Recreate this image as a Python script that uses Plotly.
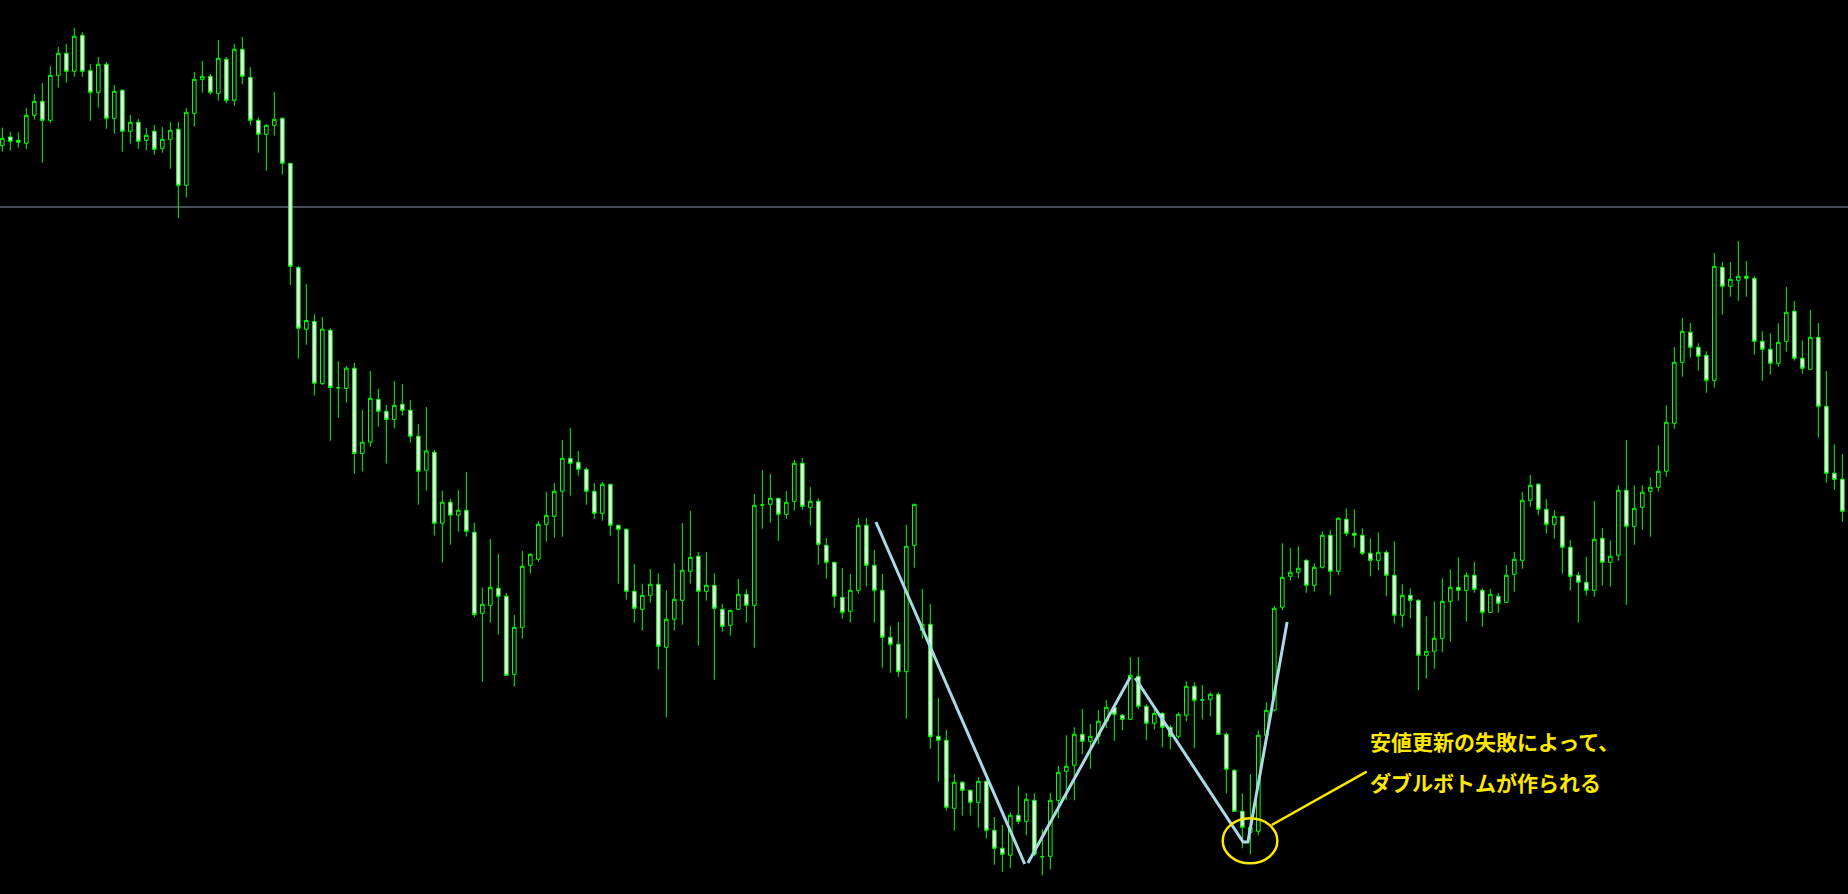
import plotly.graph_objects as go

# ---- candle data (index = bar number, prices) ----
open_ = [
112.543,112.630,112.597,112.567,112.847,112.987,112.797,113.247,113.467,113.287,
113.647,113.293,113.077,113.357,112.817,113.097,112.687,112.777,112.597,112.687,
112.517,112.607,112.707,112.147,112.867,113.207,113.237,113.067,113.407,112.997,
113.507,113.227,112.797,112.657,112.747,112.817,112.367,111.325,110.708,110.785,
110.164,110.697,110.122,110.115,110.318,109.466,109.578,110.006,109.887,109.806,
109.957,109.897,109.638,109.298,109.477,108.768,108.978,108.849,108.898,108.677,
107.867,107.947,108.117,108.037,107.257,107.727,108.347,108.407,108.757,108.837,
109.087,109.417,109.377,109.307,109.087,108.867,109.157,108.747,108.707,108.087,
107.907,108.047,108.157,107.527,107.807,107.997,108.287,108.437,108.087,108.147,
107.907,107.747,107.907,108.057,107.947,108.950,108.957,109.017,108.857,108.987,
109.367,108.927,108.987,108.547,108.377,108.027,107.887,108.097,108.747,108.347,
108.097,107.627,107.557,107.283,108.547,107.697,107.757,106.637,106.597,105.917,
106.177,106.097,105.977,106.187,105.697,105.517,105.447,105.847,105.787,105.997,
105.433,105.437,105.997,106.287,106.347,106.657,106.587,106.637,106.787,106.927,
106.847,106.807,107.237,106.937,106.767,106.867,106.727,106.637,106.847,107.137,
107.000,107.007,107.057,106.657,106.297,105.887,105.677,105.687,106.647,106.900,
107.927,108.237,108.277,108.397,108.147,108.327,108.647,108.287,108.807,108.667,
108.647,108.467,108.397,108.477,108.247,107.847,108.047,107.997,107.447,107.487,
107.617,107.987,108.127,108.097,108.247,108.097,107.877,108.037,107.977,108.257,
108.397,108.997,109.157,108.907,108.757,108.837,108.527,108.247,108.177,108.097,
108.617,108.377,108.447,109.097,108.737,108.927,109.087,109.127,109.287,109.767,
110.377,110.677,110.527,110.447,110.197,111.327,111.137,111.197,111.237,111.217,
110.587,110.507,110.367,110.587,110.887,110.417,110.307,110.627,109.937,109.267,
109.207]

high = [
112.723,112.680,112.677,112.920,113.060,113.170,113.340,113.530,113.560,113.720,
113.677,113.360,113.430,113.380,113.150,113.107,112.850,112.810,112.720,112.750,
112.730,112.780,112.780,112.920,113.280,113.390,113.260,113.600,113.430,113.560,
113.630,113.327,112.827,112.757,113.080,112.827,112.370,111.343,111.160,110.858,
110.830,110.718,110.388,110.339,110.371,109.901,110.290,110.111,109.950,110.189,
110.160,109.999,109.761,109.929,109.501,109.091,109.010,109.101,109.280,108.771,
108.123,108.610,108.460,108.070,107.850,108.490,108.470,108.790,109.080,109.170,
109.600,109.720,109.490,109.327,109.170,109.180,109.157,108.757,108.717,108.360,
108.163,108.310,108.267,108.097,108.367,108.770,108.890,108.480,108.480,108.267,
107.960,107.897,108.210,108.107,109.060,109.300,109.260,109.017,109.090,109.400,
109.420,109.130,109.017,108.620,108.377,108.320,108.260,108.820,108.820,108.500,
108.260,107.740,107.780,108.750,108.957,108.110,107.960,107.020,106.700,106.260,
106.187,106.107,106.227,106.207,105.830,105.750,105.877,106.140,106.067,106.067,
105.707,106.070,106.343,106.647,106.727,106.910,106.760,106.900,107.000,106.950,
106.860,107.430,107.430,106.957,106.947,106.877,106.747,106.877,107.187,107.177,
107.150,107.077,107.077,106.677,106.307,106.067,106.257,106.697,106.977,107.940,
108.567,108.520,108.537,108.407,108.367,108.687,108.697,108.827,108.917,108.907,
108.717,108.617,108.677,108.497,108.587,108.157,108.117,108.007,107.837,107.987,
108.217,108.307,108.427,108.277,108.380,108.117,108.110,108.070,108.350,108.480,
109.080,109.250,109.170,109.007,108.897,108.837,108.600,108.280,108.430,108.990,
108.720,108.597,109.147,109.600,109.147,109.147,109.227,109.547,109.947,110.530,
110.820,110.770,110.567,110.487,111.470,111.380,111.380,111.590,111.390,111.237,
110.687,110.667,110.767,111.130,110.990,110.597,110.900,110.770,110.290,109.557,
109.460]

low = [
112.483,112.493,112.523,112.510,112.803,112.373,112.773,113.123,113.173,113.233,
113.233,112.793,112.923,112.713,112.663,112.483,112.563,112.513,112.493,112.453,
112.473,112.313,111.820,112.027,112.733,113.073,113.053,112.993,112.967,112.943,
113.157,112.747,112.473,112.293,112.643,112.253,111.150,110.413,110.553,110.045,
110.150,109.592,109.824,109.975,109.263,109.284,109.533,109.733,109.364,109.715,
109.845,109.575,108.954,109.094,108.645,108.375,108.554,108.684,108.635,107.828,
107.183,107.773,107.653,107.247,107.133,107.613,108.263,108.383,108.583,108.623,
108.633,109.043,109.243,108.953,108.813,108.793,108.643,108.163,108.003,107.773,
107.693,107.973,107.307,106.827,107.693,107.753,108.163,107.543,107.993,107.203,
107.683,107.643,107.897,107.773,107.523,108.713,108.773,108.593,108.813,108.893,
108.903,108.743,108.353,108.213,107.923,107.813,107.773,108.063,108.133,107.773,
107.323,107.273,107.233,106.813,108.323,107.613,106.513,106.183,105.893,105.693,
105.843,105.843,105.723,105.613,105.353,105.280,105.317,105.757,105.647,105.437,
105.247,105.307,105.817,105.997,105.997,106.457,106.313,106.557,106.717,106.593,
106.697,106.807,106.907,106.597,106.707,106.527,106.507,106.617,106.787,106.517,
106.807,106.837,106.657,106.067,105.887,105.517,105.457,105.647,106.647,106.883,
107.897,108.197,108.217,108.073,108.083,108.313,108.047,108.247,108.637,108.523,
108.447,108.237,108.297,108.037,107.767,107.727,107.817,107.097,107.213,107.313,
107.477,107.583,107.993,107.783,108.073,107.733,107.877,107.873,107.977,108.083,
108.313,108.933,108.847,108.663,108.613,108.263,108.093,107.773,108.043,108.033,
108.147,108.133,108.393,107.953,108.553,108.703,108.633,109.083,109.233,109.713,
110.233,110.423,110.293,110.073,110.123,110.853,111.033,110.993,111.033,110.453,
110.193,110.253,110.333,110.483,110.393,110.263,110.307,109.623,109.173,109.103,
108.783]

close = [
112.617,112.587,112.577,112.847,112.987,112.797,113.247,113.467,113.287,113.637,
113.287,113.077,113.357,112.817,113.087,112.687,112.777,112.587,112.647,112.507,
112.607,112.697,112.147,112.877,113.207,113.237,113.077,113.417,112.997,113.507,
113.237,112.797,112.657,112.747,112.807,112.367,111.337,110.718,110.795,110.168,
110.708,110.125,110.122,110.318,109.466,109.578,110.017,109.887,109.806,109.947,
109.897,109.638,109.287,109.491,108.768,108.978,108.849,108.898,108.687,107.856,
107.957,108.127,108.037,107.247,107.727,108.337,108.457,108.757,108.847,109.087,
109.417,109.367,109.307,109.087,108.867,109.157,108.747,108.707,108.087,107.917,
108.047,108.157,107.537,107.807,108.007,108.297,108.427,108.087,108.147,107.917,
107.737,107.897,108.057,107.947,108.947,108.950,109.017,108.857,108.977,109.367,
108.937,108.987,108.557,108.377,108.037,107.877,108.097,108.747,108.347,108.097,
107.627,107.557,107.283,108.537,108.957,107.757,106.633,106.597,105.927,106.177,
106.097,105.977,106.187,105.697,105.517,105.457,105.847,105.787,106.007,105.457,
105.433,105.997,106.277,106.337,106.657,106.587,106.637,106.787,106.927,106.857,
106.807,107.247,106.937,106.767,106.867,106.727,106.637,106.857,107.137,106.997,
107.000,107.057,106.657,106.307,105.887,105.727,105.727,106.647,106.897,107.917,
108.227,108.277,108.317,108.147,108.327,108.647,108.287,108.817,108.667,108.647,
108.467,108.397,108.477,108.247,107.847,108.047,107.997,107.447,107.487,107.617,
107.987,108.127,108.097,108.247,108.107,107.877,108.057,107.967,108.247,108.407,
108.997,109.147,108.907,108.757,108.837,108.527,108.237,108.177,108.097,108.607,
108.377,108.437,109.097,108.737,108.917,109.077,109.127,109.287,109.777,110.377,
110.687,110.527,110.437,110.197,111.337,111.137,111.207,111.237,111.217,110.587,
110.507,110.367,110.577,110.877,110.417,110.317,110.627,109.937,109.267,109.207,
108.887]

bars = list(range(len(close)))

# horizontal level line
level_price = 111.93

# zigzag (double bottom) legs: bar index / price
zz1_x = [109.2, 127.8]
zz1_y = [108.78, 105.36]
zz2_x = [128.2, 141.0]
zz2_y = [105.37, 107.23]
zz3_x = [141.6, 155.1, 155.7, 160.6]
zz3_y = [107.22, 105.58, 105.58, 107.78]

# callout
ellipse_x = [152.55, 159.38]
ellipse_y = [105.367, 105.817]
pointer_x = [158.67, 170.55]
pointer_y = [105.75, 106.283]
note_lines = ["安値更新の失敗によって、", "ダブルボトムが作られる"]
note_x = 170.75
note_y = [106.59, 106.18]

GREEN = "#00ff00"
ZZ = "#add8e6"
YEL = "#ffe800"

fig = go.Figure()
fig.add_trace(go.Candlestick(
    x=bars, open=open_, high=high, low=low, close=close,
    increasing=dict(line=dict(color=GREEN, width=1), fillcolor="#000000"),
    decreasing=dict(line=dict(color=GREEN, width=1), fillcolor="#ffffff"),
    whiskerwidth=0, hoverinfo="skip", showlegend=False,
))

for xs, ys in [(zz1_x, zz1_y), (zz2_x, zz2_y), (zz3_x, zz3_y)]:
    fig.add_trace(go.Scatter(x=xs, y=ys, mode="lines",
                             line=dict(color=ZZ, width=3),
                             hoverinfo="skip", showlegend=False))

fig.add_trace(go.Scatter(x=pointer_x, y=pointer_y, mode="lines",
                         line=dict(color=YEL, width=2.5),
                         hoverinfo="skip", showlegend=False))

fig.add_shape(type="line", xref="paper", x0=0, x1=1, yref="y",
              y0=level_price, y1=level_price,
              line=dict(color="#8d99ad", width=1), layer="below")
fig.add_shape(type="circle", xref="x", yref="y",
              x0=ellipse_x[0], x1=ellipse_x[1], y0=ellipse_y[0], y1=ellipse_y[1],
              line=dict(color=YEL, width=2.5))

for txt, yy in zip(note_lines, note_y):
    fig.add_annotation(x=note_x, y=yy, xref="x", yref="y", text="<b>" + txt + "</b>",
                       showarrow=False, xanchor="left", yanchor="middle",
                       font=dict(family="Noto Sans CJK JP", size=21, color=YEL))

fig.update_layout(
    width=1848, height=894,
    margin=dict(l=0, r=0, t=0, b=0),
    paper_bgcolor="#000000", plot_bgcolor="#000000",
    boxgap=0.35,
    xaxis=dict(range=[-0.29, 230.71], visible=False, rangeslider=dict(visible=False),
               showgrid=False, zeroline=False),
    yaxis=dict(range=[105.06, 114.0], visible=False, showgrid=False, zeroline=False),
    showlegend=False,
)

fig.write_html("out.html", config={"displayModeBar": False},
               post_script="document.body.style.margin='0';document.body.style.overflow='hidden';")
